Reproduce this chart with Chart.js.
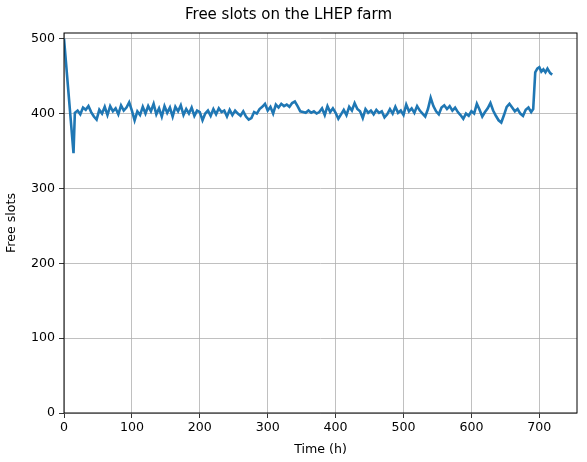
<!DOCTYPE html>
<html>
<head>
<meta charset="utf-8">
<script src="https://cdn.jsdelivr.net/npm/chart.js@4.4.0/dist/chart.umd.min.js"></script>
<style>
  body { margin: 0; background: #fff; }
  canvas { display: block; }
</style>
</head>
<body>
<canvas id="chart" width="587" height="462"></canvas>
<script>
// hours since start and free slots
const hours = [
    0, 14, 16, 20, 24, 28, 32, 36, 40, 44, 48, 52, 56, 60, 64, 68, 72, 76, 80, 84,
    88, 92, 96, 100, 104, 108, 112, 116, 120, 124, 128, 132, 136, 140, 144, 148, 152, 156, 160, 164,
    168, 172, 176, 180, 184, 188, 192, 196, 200, 204, 208, 212, 216, 220, 224, 228, 232, 236, 240, 244,
    248, 252, 256, 260, 264, 268, 272, 276, 280, 284, 288, 292, 296, 300, 304, 308, 312, 316, 320, 324,
    328, 332, 336, 340, 344, 348, 352, 356, 360, 364, 368, 372, 376, 380, 384, 388, 392, 396, 400, 404,
    408, 412, 416, 420, 424, 428, 432, 436, 440, 444, 448, 452, 456, 460, 464, 468, 472, 476, 480, 484,
    488, 492, 496, 500, 504, 508, 512, 516, 520, 524, 528, 532, 536, 540, 544, 548, 552, 556, 560, 564,
    568, 572, 576, 580, 584, 588, 592, 596, 600, 604, 608, 612, 616, 620, 624, 628, 632, 636, 640, 644,
    648, 652, 656, 660, 664, 668, 672, 676, 680, 684, 688, 691, 694, 697, 700, 703, 706, 709, 712, 716,
    719
];
const freeSlots = [
    500, 347, 401, 404, 399, 408, 405, 410, 402, 396, 392, 405, 400, 409, 398, 410, 403, 407, 399, 411,
    404, 408, 415, 404, 391, 403, 398, 409, 400, 410, 403, 413, 399, 407, 396, 410, 401, 408, 396, 409,
    403, 411, 398, 406, 400, 408, 397, 404, 402, 391, 400, 404, 397, 406, 399, 407, 402, 404, 396, 405,
    398, 404, 400, 397, 403, 396, 392, 394, 402, 400, 406, 409, 413, 404, 409, 400, 412, 408, 413, 410,
    412, 409, 414, 416, 410, 403, 402, 401, 404, 401, 403, 400, 402, 407, 398, 410, 402, 407, 401, 393,
    399, 405, 398, 409, 404, 414, 406, 403, 394, 406, 401, 404, 399, 405, 401, 403, 395, 399, 406, 400,
    409, 401, 404, 398, 412, 403, 407, 401, 410, 404, 400, 396, 406, 421, 410, 403, 399, 408, 411, 406,
    410, 404, 408, 402, 398, 393, 400, 397, 403, 400, 413, 405, 396, 402, 407, 414, 404, 397, 391, 388,
    398, 409, 413, 408, 403, 406, 400, 397, 405, 408, 402, 406, 455, 460, 462, 456, 459, 455, 460, 454,
    452
];
const xTicks = [0, 100, 200, 300, 400, 500, 600, 700];
const yTicks = [0, 100, 200, 300, 400, 500];

const font = { family: 'DejaVu Sans', size: 12.6 };

// matplotlib style frame round the plot area
const frame = {
    id: 'frame',
    afterDatasetsDraw(chart) {
        const a = chart.chartArea;
        const ctx = chart.ctx;
        ctx.save();
        ctx.strokeStyle = '#000';
        ctx.lineWidth = 1;
        ctx.strokeRect(a.left, a.top, a.right - a.left, a.bottom - a.top);
        ctx.restore();
    }
};

const ctx = document.getElementById('chart');
new Chart(ctx, {
    type: 'line',
    data: {
        datasets: [{
            data: hours.map((h, i) => ({ x: h, y: freeSlots[i] })),
            borderColor: '#1f77b4',
            borderWidth: 2.6,
            pointRadius: 0,
            tension: 0,
            fill: false
        }]
    },
    options: {
        responsive: false,
        animation: false,
        devicePixelRatio: 1,
        layout: { padding: { left: 0, right: 10, top: 0, bottom: 0 } },
        plugins: {
            legend: { display: false },
            tooltip: { enabled: false },
            title: {
                display: true,
                text: 'Free slots on the LHEP farm',
                color: '#000',
                font: { family: 'DejaVu Sans', size: 15, weight: 'normal' },
                padding: { top: 6, bottom: 9 }
            }
        },
        scales: {
            x: {
                type: 'linear',
                min: 0,
                max: 755.5,
                afterFit(scale) { scale.height = 49; },
                afterBuildTicks(scale) { scale.ticks = xTicks.map(v => ({ value: v })); },
                ticks: {
                    color: '#000',
                    font: font,
                    padding: 2,
                    maxRotation: 0
                },
                grid: { color: '#b0b0b0', lineWidth: 0.8, tickColor: '#000', tickLength: 5 },
                border: { display: false },
                title: { display: true, text: 'Time (h)', color: '#000', font: font, padding: { top: 0, bottom: 5 } }
            },
            y: {
                min: 0,
                max: 507.6,
                afterFit(scale) { scale.width = 64; },
                afterBuildTicks(scale) { scale.ticks = yTicks.map(v => ({ value: v })); },
                ticks: {
                    color: '#000',
                    font: font,
                    padding: 4
                },
                grid: { color: '#b0b0b0', lineWidth: 0.8, tickColor: '#000', tickLength: 5 },
                border: { display: false },
                title: { display: true, text: 'Free slots', color: '#000', font: font, padding: { top: 4, bottom: 0 } }
            }
        }
    },
    plugins: [frame]
});
</script>
</body>
</html>
